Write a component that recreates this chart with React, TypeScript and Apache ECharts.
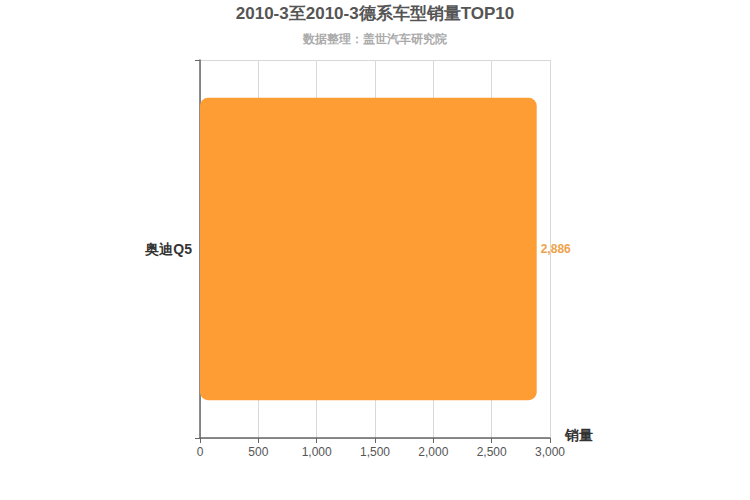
import { useEffect, useRef } from 'react'
import * as echarts from 'echarts'

const categories = ['奥迪Q5']
const sales = [2886]
const titleText = '2010-3至2010-3德系车型销量TOP10'
const subText = '数据整理：盖世汽车研究院'

export default function App() {
  const elRef = useRef<HTMLDivElement | null>(null)

  useEffect(() => {
    if (!elRef.current) return
    const chart = echarts.init(elRef.current, undefined, { renderer: 'svg' })
    chart.setOption({
      animation: false,
      textStyle: { fontFamily: 'Liberation Sans, Arial, sans-serif' },
      title: {
        text: titleText,
        subtext: subText,
        left: 'center',
        top: 0,
        itemGap: 11,
        textStyle: { color: '#555', fontSize: 17, fontWeight: 'bold' },
        subtextStyle: { color: '#aaa', fontSize: 12, fontWeight: 'bold' },
      },
      grid: { left: 200, right: 200, top: 60, bottom: 62, containLabel: false },
      xAxis: {
        type: 'value',
        min: 0,
        max: 3000,
        interval: 500,
        name: '销量',
        nameLocation: 'end',
        nameGap: 15,
        nameTextStyle: { color: '#333', fontSize: 14, fontWeight: 'bold', verticalAlign: 'bottom', padding: [0, 0, -4, 0] },
        axisLine: { show: true, lineStyle: { color: '#666', width: 1.5 } },
        axisTick: { show: true, length: 5, lineStyle: { color: '#666' } },
        axisLabel: { color: '#555', fontSize: 12, margin: 8 },
        splitLine: { show: true, lineStyle: { color: '#d8d8d8' } },
      },
      yAxis: {
        type: 'category',
        data: categories,
        axisLine: { show: true, lineStyle: { color: '#666', width: 1.5 } },
        axisTick: { show: true, length: 5, lineStyle: { color: '#666' } },
        axisLabel: { color: '#333', fontSize: 14, fontWeight: 'bold', margin: 8 },
        splitLine: { show: true, lineStyle: { color: '#d8d8d8' } },
      },
      series: [
        {
          type: 'bar',
          data: sales,
          barWidth: '80%',
          itemStyle: { color: '#ff9d35', borderRadius: 8 },
          label: {
            show: true,
            position: 'right',
            distance: 4,
            color: '#f0a24a',
            fontSize: 12,
            fontWeight: 'bold',
            formatter: (p: any) => Number(p.value).toLocaleString('en-US'),
          },
        },
      ],
    })
    return () => {
      chart.dispose()
    }
  }, [])

  return <div ref={elRef} style={{ position: 'absolute', left: 0, top: 0, width: 750, height: 500 }} />
}
